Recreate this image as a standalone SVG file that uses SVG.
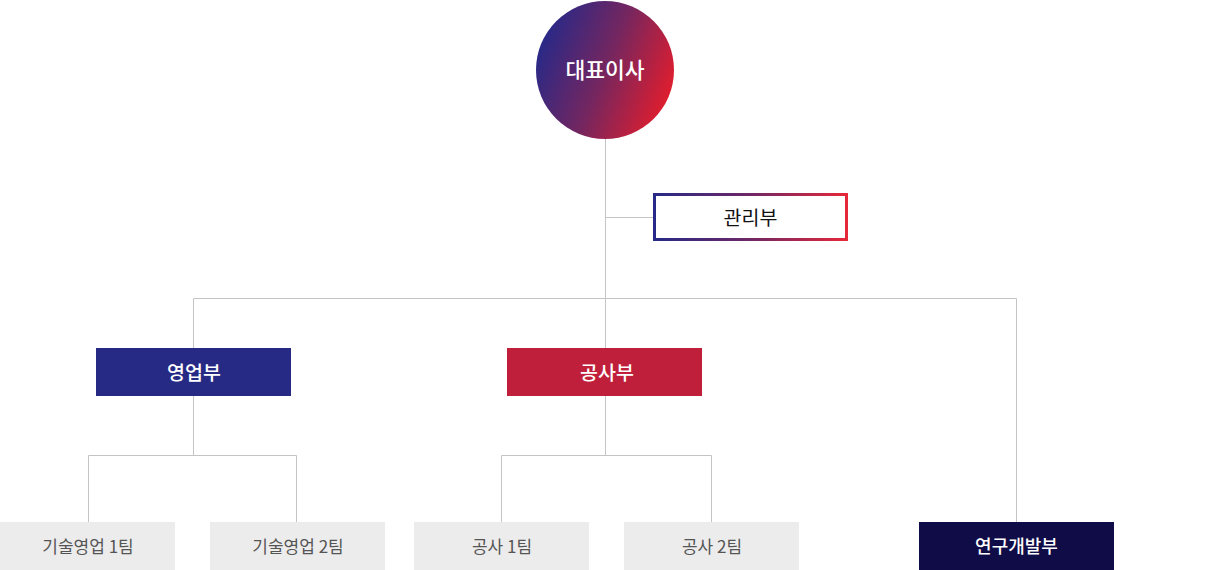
<svg xmlns="http://www.w3.org/2000/svg" width="1210" height="570" viewBox="0 0 1210 570">
<defs>
<linearGradient id="gc" x1="0" y1="0.3" x2="1" y2="0.7">
<stop offset="0" stop-color="#24298a"/>
<stop offset="0.5" stop-color="#75265f"/>
<stop offset="1" stop-color="#e61d2b"/>
</linearGradient>
<linearGradient id="gb" x1="0" y1="0" x2="1" y2="0">
<stop offset="0" stop-color="#272a86"/>
<stop offset="0.5" stop-color="#6f2765"/>
<stop offset="1" stop-color="#e5283a"/>
</linearGradient>
<style>
.ln{stroke:#c4c4c4;stroke-width:1;fill:none}
.t{font-family:"Noto Sans CJK KR","Noto Sans",sans-serif;text-anchor:middle;dominant-baseline:central}
.w{fill:#ffffff;font-size:19.5px;font-weight:500}
.g{fill:#555555;font-size:17px}
.team{fill:#ececec}
</style>
</defs>
<g id="connectors">
<path class="ln" d="M605.5 139V348M605.5 217.5H653M193.5 348V298.5H1016.5V522M193.5 396V455.5M88.5 522V455.5H296.5V522M605.5 396V455.5M501.5 522V455.5H711.5V522"/>
</g>
<g id="ceo">
<circle cx="605" cy="70" r="69" fill="url(#gc)"/>
<text class="t w" x="605" y="68" style="font-size:21.5px">대표이사</text>
</g>
<g id="admin">
<rect x="654.5" y="194.5" width="192" height="45" fill="#ffffff" stroke="url(#gb)" stroke-width="3"/>
<text class="t" x="750.5" y="216" style="font-size:19.5px;fill:#111">관리부</text>
</g>
<g id="sales">
<rect x="96" y="348" width="195" height="48" fill="#262a84"/>
<text class="t w" x="194" y="371">영업부</text>
</g>
<g id="construction">
<rect x="507" y="348" width="195" height="48" fill="#bf1f3a"/>
<text class="t w" x="607" y="371">공사부</text>
</g>
<g id="sales1">
<rect class="team" x="0" y="522" width="175" height="48"/>
<text class="t g" x="88" y="545">기술영업 1팀</text>
</g>
<g id="sales2">
<rect class="team" x="210" y="522" width="175" height="48"/>
<text class="t g" x="298" y="545">기술영업 2팀</text>
</g>
<g id="con1">
<rect class="team" x="414" y="522" width="175" height="48"/>
<text class="t g" x="502" y="545">공사 1팀</text>
</g>
<g id="con2">
<rect class="team" x="624" y="522" width="175" height="48"/>
<text class="t g" x="712" y="545">공사 2팀</text>
</g>
<g id="rnd">
<rect x="919" y="522" width="195" height="48" fill="#0f0c47"/>
<text class="t w" x="1016.5" y="545" style="font-size:18px">연구개발부</text>
</g>
</svg>
